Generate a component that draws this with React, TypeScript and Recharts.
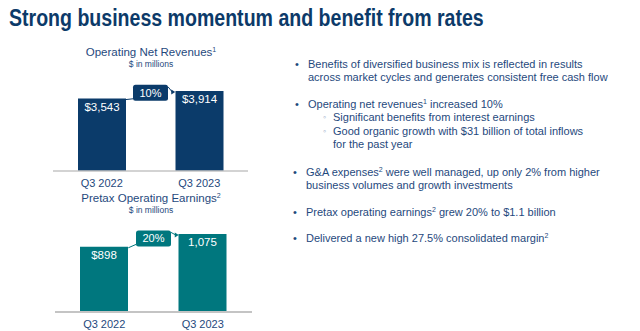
import React from "react";
import { BarChart, Bar, XAxis, YAxis, LabelList, ReferenceLine } from "recharts";

// ─── Data ────────────────────────────────────────────────────────────────────

const periods = ["Q3 2022", "Q3 2023"];
const revenues = [3543, 3914];
const revenueLabels = ["$3,543", "$3,914"];
const revenueGrowth = "10%";
const earnings = [898, 1075];
const earningsLabels = ["$898", "1,075"];
const earningsGrowth = "20%";

// ─── Constants ───────────────────────────────────────────────────────────────

const NAVY = "#0b3b6a";
const TEAL = "#00777e";
const TEXT = "#1f497d";
const AXIS = "#c4c4c4";
const FONT = '"Liberation Sans", Arial, sans-serif';
const BAR_SIZE = 48;

// ─── Helpers ─────────────────────────────────────────────────────────────────

function calloutShape(text: string, color: string) {
  return (p: any) => {
    const { x1, y1, x2, y2 } = p;
    if (x1 == null || x2 == null) return null;
    const left = x1 + BAR_SIZE / 2;
    const right = x2 - BAR_SIZE / 2;
    const w = 35;
    const h = 16;
    const bx = left + (right - left - w) / 2;
    const cy = (y1 + y2) / 2 - 2;
    const by = cy - h / 2;
    const ax = right;
    const ay = y2 + 1;
    return (
      <g>
        <line x1={left} y1={y1 + 1} x2={bx} y2={by + h - 2} stroke={color} strokeWidth={1} />
        <line x1={bx + w} y1={by + 2} x2={ax - 3} y2={ay} stroke={color} strokeWidth={1} />
        <polygon points={`${ax},${ay} ${ax - 4},${ay - 2.5} ${ax - 4},${ay + 2.5}`} fill={color} />
        <rect x={bx} y={by} width={w} height={h} rx={2.5} fill={color} />
        <text
          x={bx + w / 2}
          y={cy + 4}
          textAnchor="middle"
          fill="#ffffff"
          fontSize={11}
          fontFamily={FONT}
        >
          {text}
        </text>
      </g>
    );
  };
}

interface MiniBarProps {
  values: number[];
  labels: string[];
  growth: string;
  color: string;
  top: number;
  height: number;
  marginTop: number;
  marginLeft: number;
  marginRight: number;
  axisWidth: number;
}

function MiniBar(props: MiniBarProps) {
  const data = periods.map((p, i) => ({ period: p, value: props.values[i], label: props.labels[i] }));
  return (
    <div style={{ position: "absolute", left: 0, top: props.top }}>
      <BarChart
        width={260}
        height={props.height}
        data={data}
        margin={{ top: props.marginTop, right: props.marginRight, left: props.marginLeft, bottom: 0 }}
      >
        <XAxis
          dataKey="period"
          height={24}
          tickLine={false}
          axisLine={{ stroke: AXIS, strokeWidth: props.axisWidth }}
          tick={{ fontSize: 11, fill: TEXT, fontFamily: FONT }}
        />
        <YAxis hide domain={[0, "dataMax"]} />
        <Bar dataKey="value" fill={props.color} barSize={BAR_SIZE} isAnimationActive={false}>
          <LabelList
            dataKey="label"
            position="insideTop"
            offset={4}
            fill="#ffffff"
            fontSize={11.5}
            fontFamily={FONT}
          />
        </Bar>
        <ReferenceLine
          segment={[
            { x: periods[0], y: props.values[0] },
            { x: periods[1], y: props.values[1] },
          ]}
          ifOverflow="visible"
          shape={calloutShape(props.growth, props.color)}
        />
      </BarChart>
    </div>
  );
}

const Sup = ({ n }: { n: string }) => (
  <sup style={{ fontSize: 7, verticalAlign: "top", position: "relative", top: -3 }}>{n}</sup>
);

function ChartTitle({ text, sup, top }: { text: string; sup: string; top: number }) {
  return (
    <div
      style={{
        position: "absolute",
        left: 50,
        width: 202,
        top,
        textAlign: "center",
        color: TEXT,
        fontFamily: FONT,
      }}
    >
      <div style={{ fontSize: 11.5, lineHeight: "13px" }}>
        {text}
        <Sup n={sup} />
      </div>
      <div style={{ fontSize: 8.5, lineHeight: "11px" }}>$ in millions</div>
    </div>
  );
}

function Bullet({ x, top, sub, lines }: { x: number; top: number; sub?: boolean; lines: React.ReactNode[] }) {
  return (
    <div style={{ position: "absolute", left: x, top, fontFamily: FONT, fontSize: 11, lineHeight: "13.3px", color: TEXT }}>
      <span
        style={{
          position: "absolute",
          left: sub ? -10 : -13,
          top: 0,
          color: sub ? "#8ea6c6" : TEXT,
          fontSize: sub ? 9 : 11,
        }}
      >
        {sub ? "◦" : "•"}
      </span>
      {lines.map((l, i) => (
        <div key={i} style={{ whiteSpace: "nowrap" }}>
          {l}
        </div>
      ))}
    </div>
  );
}

// ─── Component ───────────────────────────────────────────────────────────────

export default function App() {
  return (
    <div
      style={{
        position: "fixed",
        left: 0,
        top: 0,
        width: 640,
        height: 331,
        background: "#ffffff",
        overflow: "hidden",
      }}
    >
      <div
        style={{
          position: "absolute",
          left: 9,
          top: 5,
          fontFamily: FONT,
          fontWeight: 700,
          fontSize: 23,
          color: "#0c3a69",
          whiteSpace: "nowrap",
          transform: "scaleX(0.85)",
          transformOrigin: "left top",
        }}
      >
        Strong business momentum and benefit from rates
      </div>

      <ChartTitle text="Operating Net Revenues" sup="1" top={46} />
      <MiniBar
        values={revenues}
        labels={revenueLabels}
        growth={revenueGrowth}
        color={NAVY}
        top={70}
        height={125}
        marginTop={21}
        marginLeft={53}
        marginRight={12}
        axisWidth={1.5}
      />

      <ChartTitle text="Pretax Operating Earnings" sup="2" top={192} />
      <MiniBar
        values={earnings}
        labels={earningsLabels}
        growth={earningsGrowth}
        color={TEAL}
        top={215}
        height={121}
        marginTop={19}
        marginLeft={55}
        marginRight={8}
        axisWidth={2}
      />

      <Bullet
        x={308}
        top={58}
        lines={[
          "Benefits of diversified business mix is reflected in results",
          "across market cycles and generates consistent free cash flow",
        ]}
      />
      <Bullet
        x={308}
        top={98}
        lines={[
          <>
            Operating net revenues<Sup n="1" /> increased 10%
          </>,
        ]}
      />
      <Bullet x={333} top={111} sub lines={["Significant benefits from interest earnings"]} />
      <Bullet
        x={333}
        top={125}
        sub
        lines={["Good organic growth with $31 billion of total inflows", "for the past year"]}
      />
      <Bullet
        x={306}
        top={166}
        lines={[
          <>
            G&amp;A expenses<Sup n="2" /> were well managed, up only 2% from higher
          </>,
          "business volumes and growth investments",
        ]}
      />
      <Bullet
        x={306}
        top={206}
        lines={[
          <>
            Pretax operating earnings<Sup n="2" /> grew 20% to $1.1 billion
          </>,
        ]}
      />
      <Bullet
        x={306}
        top={232}
        lines={[
          <>
            Delivered a new high 27.5% consolidated margin<Sup n="2" />
          </>,
        ]}
      />
    </div>
  );
}
